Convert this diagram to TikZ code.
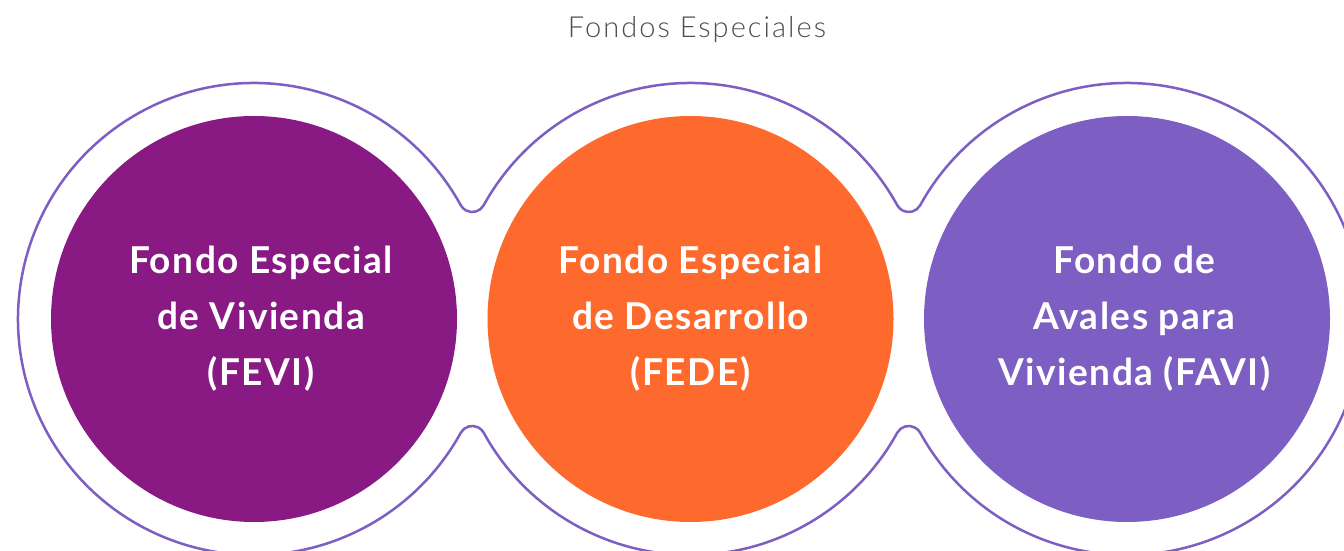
\documentclass[tikz,border=0pt]{standalone}
\usepackage{fontspec}
\setmainfont{Lato}
\newfontfamily\titlefont[LetterSpace=7]{Lato Light}
\newfontfamily\discfont[LetterSpace=4]{Lato Bold}
\usetikzlibrary{calc}
\definecolor{cpurple}{HTML}{8A1A83}
\definecolor{corange}{HTML}{FE6A2E}
\definecolor{clav}{HTML}{7D5EC2}
\definecolor{ctitle}{HTML}{4D4D4D}
\tikzset{
  outline/.style={draw=clav, line width=2.5pt},
  disc/.style={circle, minimum size=406pt, inner sep=0pt},
  disclabel/.style={text=white, align=center, inner sep=0pt,
    font=\discfont\fontsize{37}{56}\selectfont},
}
\begin{document}
\begin{tikzpicture}[x=1pt,y=1pt]
\useasboundingbox (0,0) rectangle (1344,551);
\clip (0,0) rectangle (1344,551);
\fill[white] (0,0) rectangle (1344,551);
\coordinate (c1) at (254,232);
\coordinate (c2) at (690.5,232);
\coordinate (c3) at (1127,232);
\def\aa{28.82}
\def\RR{236pt}
\def\rr{13.1pt}
\draw[outline] ($(c1)+(\aa:\RR)$)
  arc[start angle=\aa, end angle=360-\aa, radius=\RR]
  arc[start angle=180-\aa, end angle=\aa, radius=\rr]
  arc[start angle=180+\aa, end angle=360-\aa, radius=\RR]
  arc[start angle=180-\aa, end angle=\aa, radius=\rr]
  arc[start angle=180+\aa, end angle=540-\aa, radius=\RR]
  arc[start angle=360-\aa, end angle=180+\aa, radius=\rr]
  arc[start angle=\aa, end angle=180-\aa, radius=\RR]
  arc[start angle=360-\aa, end angle=180+\aa, radius=\rr]
  -- cycle;
\node[disc, fill=cpurple] (fevi) at (c1) {};
\node[disc, fill=corange] (fede) at (c2) {};
\node[disc, fill=clav] (favi) at (c3) {};
\node[disclabel] (fevitext) at ($(c1)+(7,0)$) {Fondo Especial\\de Vivienda\\(FEVI)};
\node[disclabel] (fedetext) at (c2) {Fondo Especial\\de Desarrollo\\(FEDE)};
\node[disclabel] (favitext) at ($(c3)+(7.5,0)$) {Fondo de\\Avales para\\Vivienda (FAVI)};
\node[anchor=base, text=ctitle, font=\titlefont\fontsize{29}{34}\selectfont] (title) at (697,513) {Fondos Especiales};
\end{tikzpicture}
\end{document}
